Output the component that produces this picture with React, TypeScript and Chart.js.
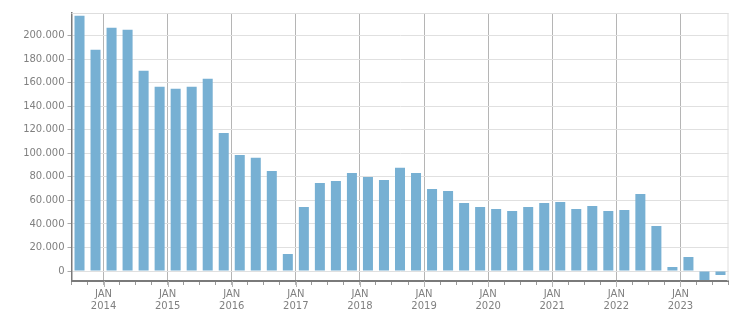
import React, { useEffect, useRef } from "react";
import { Chart, registerables } from "chart.js";

Chart.register(...registerables);

// Quarterly series starting Q3 2013 (Jul 2013) through Q3 2023
const startYear = 2013;
const startQuarter = 3; // Q3
const quarterLabels = [
  "Q3 2013", "Q4 2013",
  "Q1 2014", "Q2 2014", "Q3 2014", "Q4 2014",
  "Q1 2015", "Q2 2015", "Q3 2015", "Q4 2015",
  "Q1 2016", "Q2 2016", "Q3 2016", "Q4 2016",
  "Q1 2017", "Q2 2017", "Q3 2017", "Q4 2017",
  "Q1 2018", "Q2 2018", "Q3 2018", "Q4 2018",
  "Q1 2019", "Q2 2019", "Q3 2019", "Q4 2019",
  "Q1 2020", "Q2 2020", "Q3 2020", "Q4 2020",
  "Q1 2021", "Q2 2021", "Q3 2021", "Q4 2021",
  "Q1 2022", "Q2 2022", "Q3 2022", "Q4 2022",
  "Q1 2023", "Q2 2023", "Q3 2023",
];
const values = [
  217000, 188100,
  206800, 205100, 170200, 156600,
  154900, 156600, 163400, 117400,
  98700, 96200, 85100, 14500,
  54500, 74900, 76600, 83400,
  80000, 77400, 87700, 83400,
  69800, 68100, 57900, 54500,
  52800, 51100, 54500, 57900,
  58700, 52800, 55300, 51100,
  51900, 65500, 38300, 3400,
  11900, -7700, -3400,
];
const yTickValues = [0, 20000, 40000, 60000, 80000, 100000, 120000, 140000, 160000, 180000, 200000];
const yMin = -8500;
const yMax = 219300;
const monthLabel = "JAN";

// boundary index b (0 = start of first quarter) -> year if it is a January boundary
function janYear(b: number): number | null {
  const q = startQuarter - 1 + b; // quarters since Jan of startYear
  if (q % 4 === 0) return startYear + q / 4;
  return null;
}

function fmt(v: number): string {
  const s = Math.abs(Math.round(v)).toString().replace(/\B(?=(\d{3})+(?!\d))/g, ".");
  return (v < 0 ? "-" : "") + s;
}

const framePlugin = {
  id: "frame",
  beforeDatasetsDraw(chart: any) {
    const { ctx, chartArea } = chart;
    const xs = chart.scales.x;
    ctx.save();
    ctx.strokeStyle = "#dedede";
    ctx.lineWidth = 1;
    ctx.beginPath();
    ctx.moveTo(chartArea.left, chartArea.top + 0.5);
    ctx.lineTo(chartArea.right, chartArea.top + 0.5);
    ctx.moveTo(chartArea.right - 0.5, chartArea.top);
    ctx.lineTo(chartArea.right - 0.5, chartArea.bottom);
    ctx.stroke();
    // longer tick for January boundaries
    ctx.strokeStyle = "#b5b5b5";
    ctx.beginPath();
    for (let b = 0; b <= values.length; b++) {
      if (janYear(b) !== null) {
        const x = Math.round(xs.getPixelForValue(b)) + 0.5;
        ctx.moveTo(x, chartArea.bottom);
        ctx.lineTo(x, chartArea.bottom + 6);
      }
    }
    ctx.stroke();
    ctx.restore();
  },
};

export default function App() {
  const ref = useRef<HTMLCanvasElement | null>(null);
  useEffect(() => {
    if (!ref.current) return;
    const chart = new Chart(ref.current, {
      type: "bar",
      data: {
        datasets: [
          {
            label: "Value",
            data: values.map((v, i) => ({ x: i + 0.5, y: v })),
            backgroundColor: "#77b0d3",
            borderWidth: 0,
            categoryPercentage: 1,
            barPercentage: 0.625,
          },
        ],
      },
      options: {
        animation: false,
        responsive: true,
        maintainAspectRatio: false,
        layout: { padding: { top: 13, right: 22.5, left: 0, bottom: 0 } },
        plugins: {
          legend: { display: false },
          tooltip: { enabled: false },
        },
        scales: {
          x: {
            type: "linear",
            min: 0,
            max: values.length,
            offset: false,
            grid: {
              offset: false,
              color: (c: any) => (c.tick && janYear(c.tick.value) !== null ? "#b5b5b5" : "rgba(0,0,0,0)"),
              tickColor: (c: any) => (c.tick && janYear(c.tick.value) !== null ? "#b5b5b5" : "#999999"),
              tickLength: 4,
              lineWidth: 1,
            },
            border: { color: "#7a7a7a", width: 2 },
            ticks: {
              stepSize: 1,
              autoSkip: false,
              maxRotation: 0,
              padding: 3,
              color: "#808080",
              font: { family: "DejaVu Sans", size: 10, lineHeight: 1.25 },
              callback: (v: any) => {
                const y = janYear(Number(v));
                return y !== null ? [monthLabel, String(y)] : "";
              },
            },
            afterFit: (s: any) => {
              s.height = 32;
            },
          },
          y: {
            type: "linear",
            min: yMin,
            max: yMax,
            grid: { color: "#e0e0e0", tickColor: "#aaaaaa", tickLength: 4, lineWidth: 1 },
            border: { color: "#7a7a7a", width: 1.5 },
            afterBuildTicks: (s: any) => {
              s.ticks = yTickValues.map((v) => ({ value: v }));
            },
            ticks: {
              padding: 3,
              autoSkip: false,
              color: "#808080",
              font: { family: "DejaVu Sans", size: 10 },
              callback: (v: any) => fmt(Number(v)),
            },
            afterFit: (s: any) => {
              s.width = 71.5;
            },
          },
        },
      },
      plugins: [framePlugin],
    } as any);
    return () => chart.destroy();
  }, []);
  return (
    <div style={{ position: "absolute", left: 0, top: 0, width: 751, height: 313, background: "#fff" }}>
      <canvas ref={ref} />
    </div>
  );
}
